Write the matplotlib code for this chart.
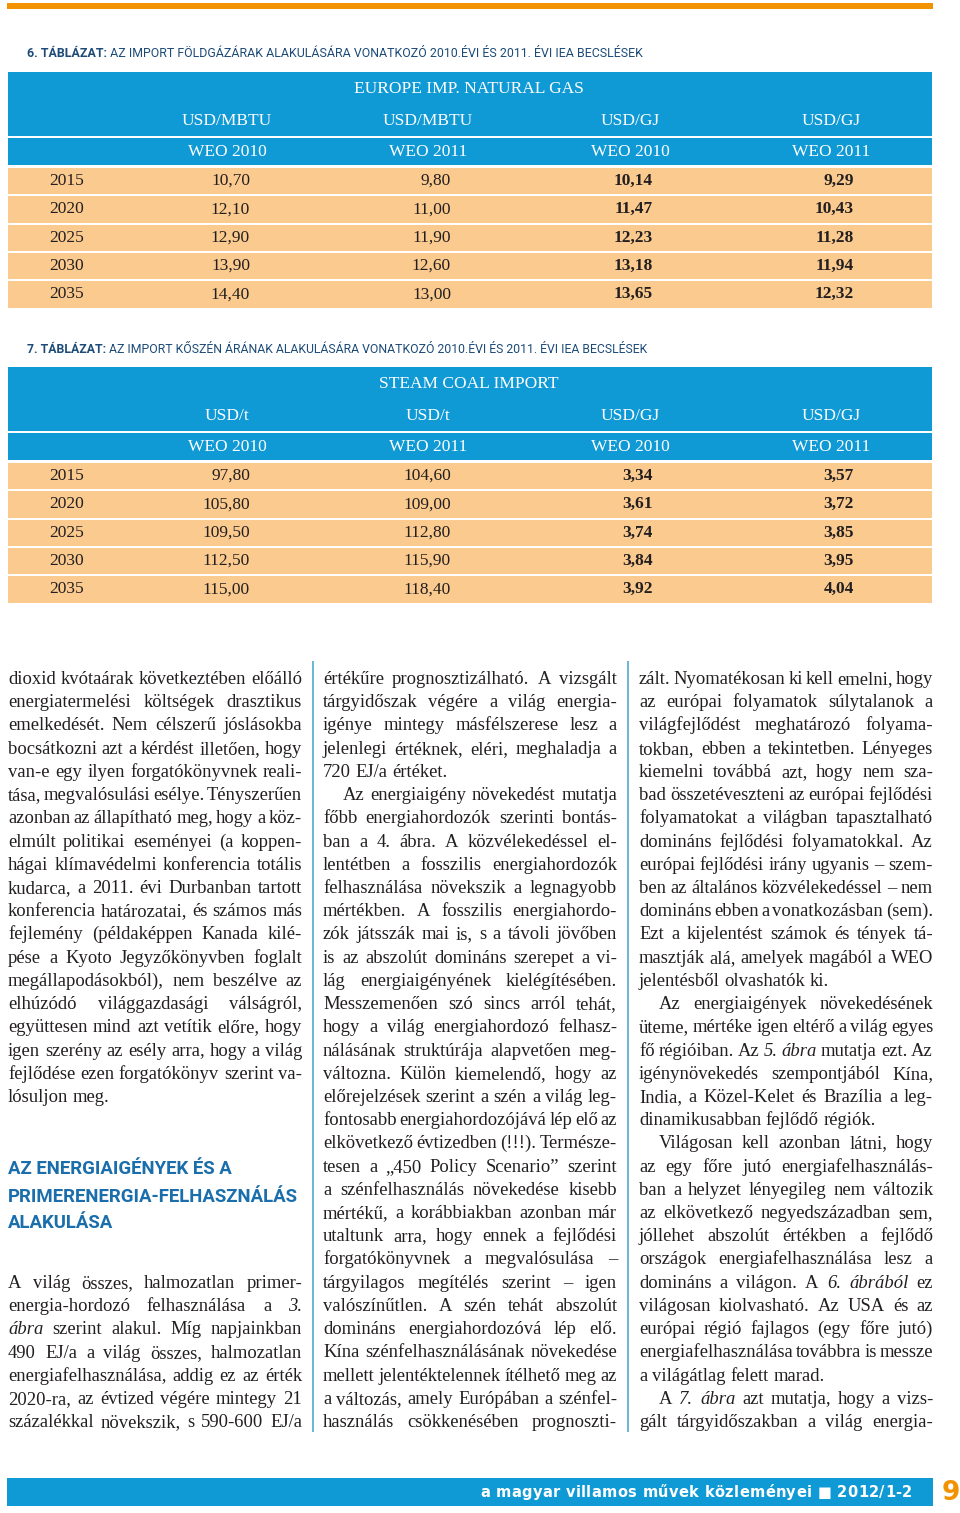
import matplotlib
matplotlib.use('Agg')
import matplotlib.pyplot as plt
from matplotlib.patches import Rectangle

# ---- table data ----
years = [2015, 2020, 2025, 2030, 2035]

gas_title = 'EUROPE IMP. NATURAL GAS'
gas_units = ['USD/MBTU', 'USD/MBTU', 'USD/GJ', 'USD/GJ']
gas_weo = ['WEO 2010', 'WEO 2011', 'WEO 2010', 'WEO 2011']
gas_mbtu_2010 = [10.70, 12.10, 12.90, 13.90, 14.40]
gas_mbtu_2011 = [9.80, 11.00, 11.90, 12.60, 13.00]
gas_gj_2010 = [10.14, 11.47, 12.23, 13.18, 13.65]
gas_gj_2011 = [9.29, 10.43, 11.28, 11.94, 12.32]

coal_title = 'STEAM COAL IMPORT'
coal_units = ['USD/t', 'USD/t', 'USD/GJ', 'USD/GJ']
coal_weo = ['WEO 2010', 'WEO 2011', 'WEO 2010', 'WEO 2011']
coal_t_2010 = [97.80, 105.80, 109.50, 112.50, 115.00]
coal_t_2011 = [104.60, 109.00, 112.80, 115.90, 118.40]
coal_gj_2010 = [3.34, 3.61, 3.74, 3.84, 3.92]
coal_gj_2011 = [3.57, 3.72, 3.85, 3.95, 4.04]

caption6 = ('6. TÁBLÁZAT:', ' AZ IMPORT FÖLDGÁZÁRAK ALAKULÁSÁRA VONATKOZÓ 2010.ÉVI ÉS 2011. ÉVI IEA BECSLÉSEK')
caption7 = ('7. TÁBLÁZAT:', ' AZ IMPORT KŐSZÉN ÁRÁNAK ALAKULÁSÁRA VONATKOZÓ 2010.ÉVI ÉS 2011. ÉVI IEA BECSLÉSEK')

# ---- article text ('>' = indent, '|' = last line of paragraph, '_' = italic word) ----
col1 = [
    'dioxid kvótaárak következtében előálló',
    'energiatermelési költségek drasztikus',
    'emelkedését. Nem célszerű jóslásokba',
    'bocsátkozni azt a kérdést illetően, hogy',
    'van-e egy ilyen forgatókönyvnek reali-',
    'tása, megvalósulási esélye. Tényszerűen',
    'azonban az állapítható meg, hogy a köz-',
    'elmúlt politikai eseményei (a koppen-',
    'hágai klímavédelmi konferencia totális',
    'kudarca, a 2011. évi Durbanban tartott',
    'konferencia határozatai, és számos más',
    'fejlemény (példaképpen Kanada kilé-',
    'pése a Kyoto Jegyzőkönyvben foglalt',
    'megállapodásokból), nem beszélve az',
    'elhúzódó világgazdasági válságról,',
    'együttesen mind azt vetítik előre, hogy',
    'igen szerény az esély arra, hogy a világ',
    'fejlődése ezen forgatókönyv szerint va-',
    'lósuljon meg.|',
]
heading = ['AZ ENERGIAIGÉNYEK ÉS A', 'PRIMERENERGIA-FELHASZNÁLÁS', 'ALAKULÁSA']
col1b = [
    'A világ összes, halmozatlan primer-',
    'energia-hordozó felhasználása a _3.',
    '_ábra szerint alakul. Míg napjainkban',
    '490 EJ/a a világ összes, halmozatlan',
    'energiafelhasználása, addig ez az érték',
    '2020-ra, az évtized végére mintegy 21',
    'százalékkal növekszik, s 590-600 EJ/a',
]
col2 = [
    'értékűre prognosztizálható. A vizsgált',
    'tárgyidőszak végére a világ energia-',
    'igénye mintegy másfélszerese lesz a',
    'jelenlegi értéknek, eléri, meghaladja a',
    '720 EJ/a értéket.|',
    '>Az energiaigény növekedést mutatja',
    'főbb energiahordozók szerinti bontás-',
    'ban a 4. ábra. A közvélekedéssel el-',
    'lentétben a fosszilis energiahordozók',
    'felhasználása növekszik a legnagyobb',
    'mértékben. A fosszilis energiahordo-',
    'zók játsszák mai is, s a távoli jövőben',
    'is az abszolút domináns szerepet a vi-',
    'lág energiaigényének kielégítésében.',
    'Messzemenően szó sincs arról tehát,',
    'hogy a világ energiahordozó felhasz-',
    'nálásának struktúrája alapvetően meg-',
    'változna. Külön kiemelendő, hogy az',
    'előrejelzések szerint a szén a világ leg-',
    'fontosabb energiahordozójává lép elő az',
    'elkövetkező évtizedben (!!!). Természe-',
    'tesen a „450 Policy Scenario” szerint',
    'a szénfelhasználás növekedése kisebb',
    'mértékű, a korábbiakban azonban már',
    'utaltunk arra, hogy ennek a fejlődési',
    'forgatókönyvnek a megvalósulása –',
    'tárgyilagos megítélés szerint – igen',
    'valószínűtlen. A szén tehát abszolút',
    'domináns energiahordozóvá lép elő.',
    'Kína szénfelhasználásának növekedése',
    'mellett jelentéktelennek ítélhető meg az',
    'a változás, amely Európában a szénfel-',
    'használás csökkenésében prognoszti-',
]
col3 = [
    'zált. Nyomatékosan ki kell emelni, hogy',
    'az európai folyamatok súlytalanok a',
    'világfejlődést meghatározó folyama-',
    'tokban, ebben a tekintetben. Lényeges',
    'kiemelni továbbá azt, hogy nem sza-',
    'bad összetéveszteni az európai fejlődési',
    'folyamatokat a világban tapasztalható',
    'domináns fejlődési folyamatokkal. Az',
    'európai fejlődési irány ugyanis – szem-',
    'ben az általános közvélekedéssel – nem',
    'domináns ebben a vonatkozásban (sem).',
    'Ezt a kijelentést számok és tények tá-',
    'masztják alá, amelyek magából a WEO',
    'jelentésből olvashatók ki.|',
    '>Az energiaigények növekedésének',
    'üteme, mértéke igen eltérő a világ egyes',
    'fő régióiban. Az _5. _ábra mutatja ezt. Az',
    'igénynövekedés szempontjából Kína,',
    'India, a Közel-Kelet és Brazília a leg-',
    'dinamikusabban fejlődő régiók.|',
    '>Világosan kell azonban látni, hogy',
    'az egy főre jutó energiafelhasználás-',
    'ban a helyzet lényegileg nem változik',
    'az elkövetkező negyedszázadban sem,',
    'jóllehet abszolút értékben a fejlődő',
    'országok energiafelhasználása lesz a',
    'domináns a világon. A _6. _ábrából ez',
    'világosan kiolvasható. Az USA és az',
    'európai régió fajlagos (egy főre jutó)',
    'energiafelhasználása továbbra is messze',
    'a világátlag felett marad.|',
    '>A _7. _ábra azt mutatja, hogy a vizs-',
    'gált tárgyidőszakban a világ energia-',
]
footer = 'a magyar villamos művek közleményei ■ 2012/1-2'
page_no = '9'

# ---- styles ----
BLUE = '#0f9ad6'
PEACH = '#fbca8e'
ORANGE = '#f39200'
NAVY = '#1c4b78'
HEAD = '#1a6eab'
INK = '#231f20'
SEP = '#5fb0d6'
SERIF = ['Liberation Serif', 'DejaVu Serif']
NARROW = ['Roboto', 'DejaVu Sans']

W, H = 960, 1513
fig = plt.figure(figsize=(W / 100, H / 100), dpi=100)
ax = fig.add_axes([0, 0, 1, 1])
ax.set_xlim(0, W)
ax.set_ylim(H, 0)
ax.axis('off')
renderer = fig.canvas.get_renderer()


def width_of(s, **kw):
    t = ax.text(0, 0, s, **kw)
    w = t.get_window_extent(renderer).width
    t.remove()
    return w


def fmt(v):
    return f'{v:.2f}'.replace('.', ',')


# top orange rule
ax.add_patch(Rectangle((7, 3), 926, 6, color=ORANGE, lw=0))

TX0, TX1 = 8, 932
col_centers = [227, 428, 630, 831]


def caption(x, y, parts, target_w):
    size = 10
    w = width_of(parts[0], fontsize=size, family=NARROW, fontweight='bold') + \
        width_of(parts[1], fontsize=size, family=NARROW)
    size = size * target_w / w
    wb = width_of(parts[0], fontsize=size, family=NARROW, fontweight='bold')
    ax.text(x, y, parts[0], fontsize=size, family=NARROW, fontweight='bold',
            color=NAVY, va='baseline')
    ax.text(x + wb, y, parts[1], fontsize=size, family=NARROW, color=NAVY, va='baseline')


def table(top, title, units, weos, columns):
    ax.add_patch(Rectangle((TX0, top), TX1 - TX0, 64, color=BLUE, lw=0))
    ax.add_patch(Rectangle((TX0, top + 66), TX1 - TX0, 27, color=BLUE, lw=0))
    ax.text(469, top + 17, title, fontsize=12.5, family=SERIF, color='white',
            ha='center', va='center')
    for cx, u, wl in zip(col_centers, units, weos):
        ax.text(cx, top + 49, u, fontsize=12.5, family=SERIF, color='white',
                ha='center', va='center')
        ax.text(cx, top + 80, wl, fontsize=12.5, family=SERIF, color='white',
                ha='center', va='center')
    for i, yr in enumerate(years):
        yc = top + 109 + i * 28.3
        ax.add_patch(Rectangle((TX0, yc - 13), TX1 - TX0, 26.3, color=PEACH, lw=0))
        ax.text(49, yc, str(yr), fontsize=12.5, family=SERIF, color=INK,
                ha='left', va='center')
        for j, (cx, vals) in enumerate(zip(col_centers, columns)):
            ax.text(cx + 23, yc, fmt(vals[i]), fontsize=12.5, family=SERIF, color=INK,
                    ha='right', va='center', fontweight='bold' if j >= 2 else 'normal')


caption(27, 57, caption6, 610)
table(72, gas_title, gas_units, gas_weo,
      [gas_mbtu_2010, gas_mbtu_2011, gas_gj_2010, gas_gj_2011])
caption(27, 353, caption7, 620)
table(367, coal_title, coal_units, coal_weo,
      [coal_t_2010, coal_t_2011, coal_gj_2010, coal_gj_2011])

# ---- article columns ----
COLW = 294
INDENT = 20
PITCH = 23.22


def parse(line):
    indent = line.startswith('>')
    last = line.endswith('|')
    return line.strip('>|'), indent, last


def word_list(line):
    out = []
    for w in line.split(' '):
        if w.startswith('_'):
            out.append((w[1:], 'italic'))
        else:
            out.append((w, 'normal'))
    return out


# one body size that lets every justified line fit
base = 10.0
sp10 = width_of('x x', fontsize=base, family=SERIF) - width_of('xx', fontsize=base, family=SERIF)
ratio = 10.0
for lines in (col1, col1b, col2, col3):
    for ln in lines:
        txt, ind, last = parse(ln)
        ws = word_list(txt)
        tot = sum(width_of(w, fontsize=base, family=SERIF, fontstyle=s) for w, s in ws)
        tot += (len(ws) - 1) * sp10 * 0.55
        avail = COLW - (INDENT if ind else 0)
        ratio = min(ratio, avail / tot)
BODY = min(13.5, base * ratio)
space = sp10 * BODY / base


def column(x0, y0, lines):
    for k, ln in enumerate(lines):
        txt, ind, last = parse(ln)
        y = y0 + k * PITCH + 5
        arts = [ax.text(0, y, w, fontsize=BODY, family=SERIF, fontstyle=s, color=INK,
                        ha='left', va='baseline') for w, s in word_list(txt)]
        ws = [a.get_window_extent(renderer).width for a in arts]
        off = INDENT if ind else 0
        if not last and len(arts) > 1:
            gap = (COLW - off - sum(ws)) / (len(arts) - 1)
        else:
            gap = space
        x = x0 + off
        for a, w in zip(arts, ws):
            a.set_x(x)
            x += w + gap


column(8, 679, col1)
column(8, 1283, col1b)
column(323, 679, col2)
column(639, 679, col3)

# heading in first column
hsize = 17
hw = max(width_of(h, fontsize=hsize, family=NARROW, fontweight='bold') for h in heading)
hsize = hsize * 292 / hw
for i, h in enumerate(heading):
    ax.text(8, 1166 + i * 27 + 8.5, h, fontsize=hsize, family=NARROW, fontweight='bold',
            color=HEAD, va='baseline')

# column separators
for sx in (313, 628):
    ax.plot([sx, sx], [661, 1432], color=SEP, lw=1.3, solid_capstyle='butt')

# ---- footer ----
ax.add_patch(Rectangle((7, 1478), 926, 28, color=BLUE, lw=0))
fsize = 10.5
chars = [ax.text(0, 1497, c, fontsize=fsize, family='DejaVu Sans', fontweight='bold',
                 color='white', ha='left', va='baseline') for c in footer]
cw = []
for c in footer:
    cw.append(width_of('x' + c + 'x', fontsize=fsize, family='DejaVu Sans', fontweight='bold')
              - width_of('xx', fontsize=fsize, family='DejaVu Sans', fontweight='bold'))
track = (912 - 480 - sum(cw)) / (len(footer) - 1)
x = 480
for a, w in zip(chars, cw):
    a.set_x(x)
    x += w + track
ax.text(951, 1493, page_no, fontsize=19, family='DejaVu Sans', fontweight='bold',
        color=ORANGE, ha='center', va='center')

fig.savefig('out.png', dpi=100)
